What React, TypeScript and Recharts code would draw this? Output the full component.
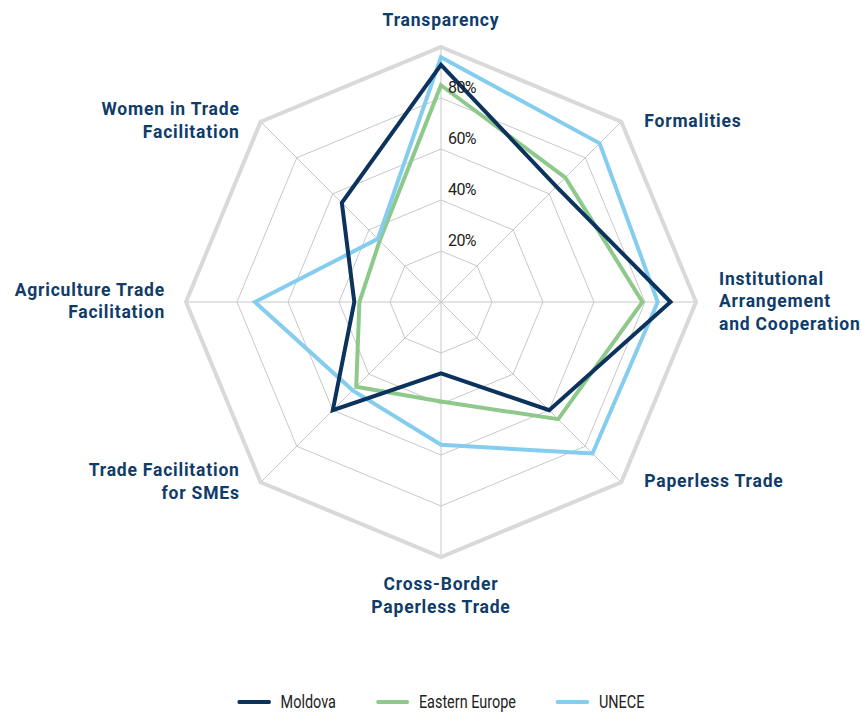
import {
  RadarChart,
  Radar,
  PolarGrid,
  PolarAngleAxis,
  PolarRadiusAxis,
  Legend,
} from 'recharts';

// ──────────────────────────────────────────────────────────
// Data
// ──────────────────────────────────────────────────────────

const CATEGORIES = [
  'Transparency',
  'Formalities',
  'Institutional Arrangement and Cooperation',
  'Paperless Trade',
  'Cross-Border Paperless Trade',
  'Trade Facilitation for SMEs',
  'Agriculture Trade Facilitation',
  'Women in Trade Facilitation',
];

const LABEL_LINES: Record<string, string[]> = {
  Transparency: ['Transparency'],
  Formalities: ['Formalities'],
  'Institutional Arrangement and Cooperation': ['Institutional', 'Arrangement', 'and Cooperation'],
  'Paperless Trade': ['Paperless Trade'],
  'Cross-Border Paperless Trade': ['Cross-Border', 'Paperless Trade'],
  'Trade Facilitation for SMEs': ['Trade Facilitation', 'for SMEs'],
  'Agriculture Trade Facilitation': ['Agriculture Trade', 'Facilitation'],
  'Women in Trade Facilitation': ['Women in Trade', 'Facilitation'],
};

const MOLDOVA = [93, 64, 90, 60, 28, 60, 34, 55];
const EASTERN_EUROPE = [85, 69, 79, 65, 39, 47, 32, 34];
const UNECE = [96, 88, 85, 84, 56, 49, 73, 35];

const RADIUS_TICKS = [20, 40, 60, 80];

const chartData = CATEGORIES.map((name, i) => ({
  name,
  moldova: MOLDOVA[i],
  easternEurope: EASTERN_EUROPE[i],
  unece: UNECE[i],
}));

// ──────────────────────────────────────────────────────────
// Styles
// ──────────────────────────────────────────────────────────

const CX = 441;
const CY = 302;
const OUTER = 255;
const LABEL_COLOR = '#0f3c69';
const BODY_FONT = 'Roboto, sans-serif';
const LEGEND_SQUEEZE = 0.78; // mimic the condensed face of the original

const SERIES = [
  { key: 'moldova', name: 'Moldova', color: '#0b335d' },
  { key: 'easternEurope', name: 'Eastern Europe', color: '#8ec98b' },
  { key: 'unece', name: 'UNECE', color: '#85cdee' },
];

// drawn back to front: green, blue, navy
const DRAW_ORDER = ['easternEurope', 'unece', 'moldova'];

// ──────────────────────────────────────────────────────────
// Ticks
// ──────────────────────────────────────────────────────────

function AngleTick(props: any) {
  const { payload } = props;
  const lines = LABEL_LINES[payload.value] ?? [payload.value];
  const angle = (payload.coordinate * Math.PI) / 180;
  const vx = CX + OUTER * Math.cos(angle);
  const vy = CY - OUTER * Math.sin(angle);
  const cos = Math.cos(angle);
  const sin = Math.sin(angle);
  const lineH = 22.5;

  let anchor: 'start' | 'middle' | 'end' = 'middle';
  let x = vx;
  let firstY: number;

  if (sin > 0.9) {
    // top
    firstY = vy - 16 - lineH / 2 - (lines.length - 1) * lineH;
  } else if (sin < -0.9) {
    // bottom
    firstY = vy + 16 + lineH / 2;
  } else {
    anchor = cos > 0 ? 'start' : 'end';
    x = vx + (cos > 0 ? 23 : -21);
    firstY = vy - ((lines.length - 1) * lineH) / 2 - 1;
  }

  return (
    <text
      x={x}
      y={firstY}
      textAnchor={anchor}
      fill={LABEL_COLOR}
      fontFamily={BODY_FONT}
      fontWeight={700}
      fontSize={17.5}
      letterSpacing={0.8}
    >
      {lines.map((line, i) => (
        <tspan key={i} x={x} y={firstY + i * lineH} dominantBaseline="central">
          {line}
        </tspan>
      ))}
    </text>
  );
}

function RadiusTick(props: any) {
  const { x, y, payload } = props;
  if (!RADIUS_TICKS.includes(payload.value)) return <g />;
  return (
    <text
      x={x + 7}
      y={y - 5}
      textAnchor="start"
      fill="#222"
      fontFamily={BODY_FONT}
      fontSize={16}
      letterSpacing={-0.6}
    >
      {`${payload.value}%`}
    </text>
  );
}

// ──────────────────────────────────────────────────────────
// Legend
// ──────────────────────────────────────────────────────────

function LegendContent() {
  const k = LEGEND_SQUEEZE;
  return (
    <div
      style={{
        display: 'flex',
        justifyContent: 'center',
        alignItems: 'center',
        height: 18,
        lineHeight: '18px',
        fontFamily: BODY_FONT,
        fontSize: 18.5,
        color: '#222',
        transform: `scaleX(${k})`,
        transformOrigin: '50% 50%',
      }}
    >
      {SERIES.map((s, i) => (
        <div
          key={s.key}
          style={{ display: 'flex', alignItems: 'center', marginLeft: i === 0 ? 0 : 40 / k }}
        >
          <span
            style={{
              display: 'inline-block',
              width: 33 / k,
              height: 4,
              borderRadius: 2,
              background: s.color,
              marginRight: 10 / k,
            }}
          />
          <span>{s.name}</span>
        </div>
      ))}
    </div>
  );
}

// ──────────────────────────────────────────────────────────
// Chart
// ──────────────────────────────────────────────────────────

export default function App() {
  return (
    <div style={{ width: 862, height: 713, background: '#fff' }}>
      <style>{'body{margin:0;}'}</style>
      <RadarChart
        width={862}
        height={713}
        data={chartData}
        cx={CX}
        cy={CY}
        outerRadius={OUTER}
        margin={{ top: 0, right: 0, bottom: 0, left: 0 }}
      >
        <PolarGrid
          gridType="polygon"
          polarRadius={RADIUS_TICKS.map((t) => (t / 100) * OUTER)}
          stroke="#c8c8c8"
          strokeWidth={1}
        />
        <PolarGrid
          gridType="polygon"
          polarRadius={[OUTER]}
          radialLines={false}
          stroke="#d9d9d9"
          strokeWidth={4}
        />
        <PolarAngleAxis
          dataKey="name"
          tick={<AngleTick />}
          tickLine={false}
          axisLine={false}
        />
        <PolarRadiusAxis
          angle={90}
          domain={[0, 100]}
          tickCount={6}
          axisLine={false}
          tickLine={false}
          tick={<RadiusTick />}
        />
        {DRAW_ORDER.map((key) => {
          const s = SERIES.find((x) => x.key === key)!;
          return (
            <Radar
              key={s.key}
              name={s.name}
              dataKey={s.key}
              stroke={s.color}
              strokeWidth={4}
              fill="none"
              fillOpacity={0}
              dot={false}
              isAnimationActive={false}
            />
          );
        })}
        <Legend
          content={<LegendContent />}
          wrapperStyle={{ position: 'absolute', left: 20, top: 693, width: 842, height: 18 }}
        />
      </RadarChart>
    </div>
  );
}
